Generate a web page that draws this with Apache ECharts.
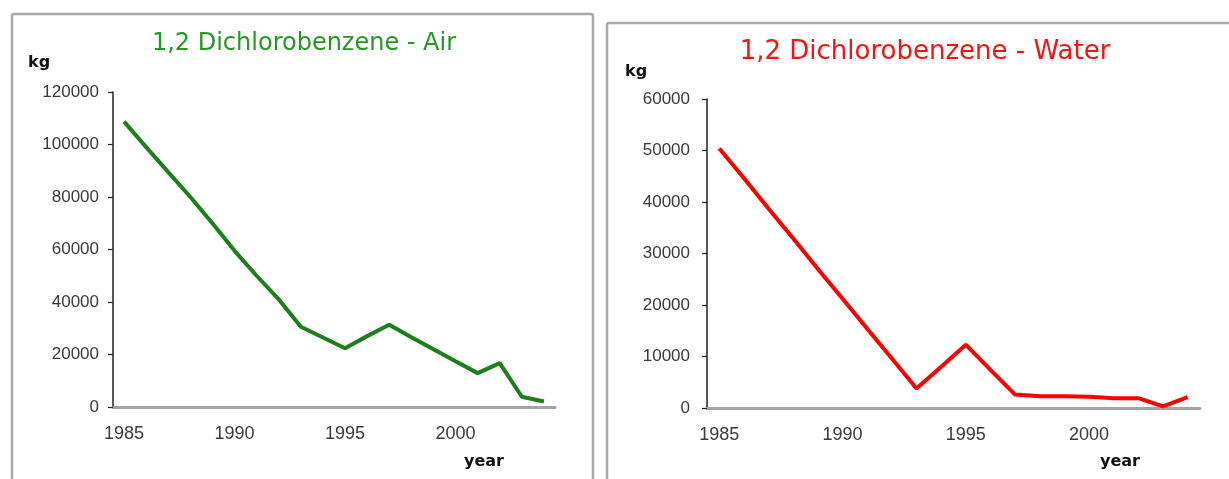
<!DOCTYPE html>
<html>
<head>
<meta charset="utf-8">
<script src="https://cdn.jsdelivr.net/npm/echarts@6/dist/echarts.min.js"></script>
<style>
html,body{margin:0;padding:0;background:#fff;}
#c{width:1229px;height:479px;}
</style>
</head>
<body>
<div id="c"></div>
<script>
const years = ['1985','1986','1987','1988','1989','1990','1991','1992','1993','1994','1995','1996','1997','1998','1999','2000','2001','2002','2003','2004'];
const airValues = [108700, 99000, 89500, 80000, 70000, 59500, 50000, 41000, 30600, 26500, 22400, 27000, 31300, 26600, 22000, 17400, 12900, 16700, 3900, 2100];
const waterValues = [50400, 44600, 38700, 32900, 27000, 21200, 15400, 9600, 3800, 8000, 12300, 7400, 2600, 2300, 2300, 2200, 1900, 1900, 300, 2100];
const airTitle = '1,2 Dichlorobenzene - Air';
const waterTitle = '1,2 Dichlorobenzene - Water';
const yUnit = 'kg';
const xUnit = 'year';

const chart = echarts.init(document.getElementById('c'));
const labelFont = 'Liberation Sans, Arial, sans-serif';
const titleFont = 'DejaVu Sans, Verdana, sans-serif';

function xAxis(gi){
  return {
    type:'category', gridIndex:gi, data:years, boundaryGap:true,
    axisLine:{lineStyle:{color:'#a3a3a3', width:3}},
    axisTick:{show:false},
    axisLabel:{interval:4, fontSize:18, color:'#3a3a3a', fontFamily:labelFont, margin:18},
    splitLine:{show:false}
  };
}
function yAxis(gi, max, interval, margin){
  return {
    type:'value', gridIndex:gi, min:0, max:max, interval:interval,
    axisLine:{show:true, lineStyle:{color:'#222', width:1.5}},
    axisTick:{show:true, length:5, lineStyle:{color:'#222', width:1.2}},
    axisLabel:{fontSize:17, color:'#3a3a3a', fontFamily:labelFont, margin:margin, formatter:function(v){return String(v);}},
    splitLine:{show:false}
  };
}

chart.setOption({
  animation:false,
  backgroundColor:'#fff',
  grid:[
    {left:113, top:92, width:442, height:315},
    {left:707, top:99, width:493, height:309}
  ],
  xAxis:[xAxis(0), xAxis(1)],
  yAxis:[yAxis(0,120000,20000,14), yAxis(1,60000,10000,17)],
  series:[
    {type:'line', xAxisIndex:0, yAxisIndex:0, data:airValues, showSymbol:false, lineStyle:{color:'#1c7f1c', width:4}, itemStyle:{color:'#1c7f1c'}},
    {type:'line', xAxisIndex:1, yAxisIndex:1, data:waterValues, showSymbol:false, lineStyle:{color:'#ff0000', width:4}, itemStyle:{color:'#ff0000'}}
  ],
  graphic:[
    {type:'rect', shape:{x:12, y:14, width:581, height:500, r:2}, style:{fill:null, stroke:'#a8a8a8', lineWidth:2.5}, silent:true},
    {type:'rect', shape:{x:607, y:23, width:640, height:500, r:2}, style:{fill:null, stroke:'#a8a8a8', lineWidth:2.5}, silent:true},
    {type:'text', x:304, y:44, style:{text:airTitle, fill:'#229a22', font:'24px ' + titleFont, textAlign:'center', textVerticalAlign:'middle'}},
    {type:'text', x:925, y:52, style:{text:waterTitle, fill:'#ff1010', font:'26px ' + titleFont, textAlign:'center', textVerticalAlign:'middle'}},
    {type:'text', x:28, y:63, style:{text:yUnit, fill:'#111', font:'bold 16px ' + titleFont, textAlign:'left', textVerticalAlign:'middle'}},
    {type:'text', x:625, y:72, style:{text:yUnit, fill:'#111', font:'bold 16px ' + titleFont, textAlign:'left', textVerticalAlign:'middle'}},
    {type:'text', x:484, y:462, style:{text:xUnit, fill:'#111', font:'bold 16px ' + titleFont, textAlign:'center', textVerticalAlign:'middle'}},
    {type:'text', x:1120, y:462, style:{text:xUnit, fill:'#111', font:'bold 16px ' + titleFont, textAlign:'center', textVerticalAlign:'middle'}}
  ]
});
</script>
</body>
</html>
